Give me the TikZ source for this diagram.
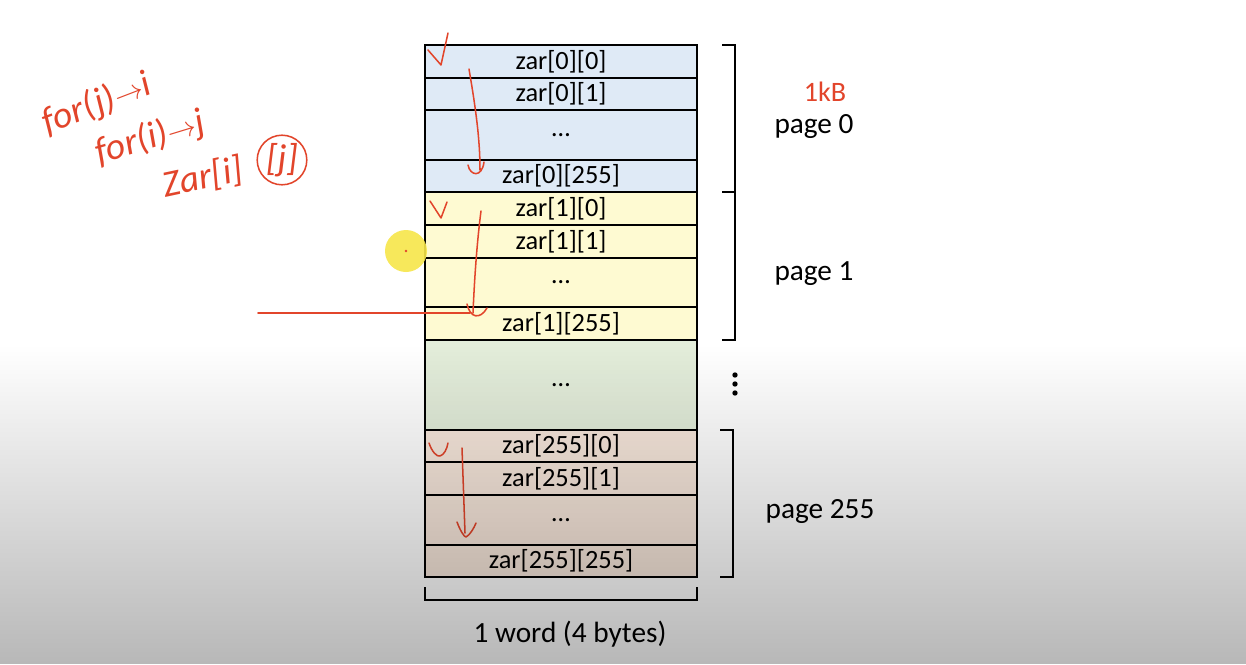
\documentclass[tikz,border=0pt]{standalone}
\usepackage{fontspec}
\setmainfont{Carlito}
\usepackage{tikz}
\usetikzlibrary{positioning, arrows.meta, fadings}

\definecolor{pgblue}{HTML}{DFEAF6}
\definecolor{pgyellow}{HTML}{FEFAD2}
\definecolor{pggreen}{HTML}{E3EDDA}
\definecolor{pgbrown}{HTML}{F8E8DC}
\definecolor{penred}{HTML}{E2452B}
\definecolor{cursor}{HTML}{F7E64A}

\tikzfading[name=fadedown, top color=transparent!100, bottom color=transparent!72]

\begin{document}
\begin{tikzpicture}[
        x=0.03cm, y=-0.03cm,
        node distance = 0pt,
        cell/.style = {draw, line width=1.2pt, rectangle, outer sep=0pt, minimum width=8.16cm, font=\fontsize{22.5}{26}\selectfont},
        brk/.style  = {line width=1.4pt},
        lbl/.style  = {font=\fontsize{25}{29}\selectfont},
        pen/.style  = {draw=penred, line width=1.3pt, line cap=round, line join=round},
        hand/.style = {text=penred, font=\fontsize{32}{36}\selectfont\itshape},
    ]
        \useasboundingbox (0,0) rectangle (1246,664);
        \fill[white] (0,0) rectangle (1246,664);

        % page 0
        \node[cell, fill=pgblue, minimum height=0.99cm] (z00) at (561,61.5) {zar[0][0]};
        \node[cell, fill=pgblue, minimum height=0.96cm, below=of z00] (z01) {zar[0][1]};
        \node[cell, fill=pgblue, minimum height=1.5cm, below=of z01] (z0d) {\dots};
        \node[cell, fill=pgblue, minimum height=0.96cm, below=of z0d] (z0n) {zar[0][255]};

        % page 1
        \node[cell, fill=pgyellow, minimum height=0.99cm, below=of z0n] (z10) {zar[1][0]};
        \node[cell, fill=pgyellow, minimum height=0.99cm, below=of z10] (z11) {zar[1][1]};
        \node[cell, fill=pgyellow, minimum height=1.47cm, below=of z11] (z1d) {\dots};
        \node[cell, fill=pgyellow, minimum height=0.99cm, below=of z1d] (z1n) {zar[1][255]};

        \node[cell, fill=pggreen, minimum height=2.7cm, below=of z1n] (mid) {\dots};

        % page 255
        \node[cell, fill=pgbrown, minimum height=0.96cm, below=of mid] (zn0) {zar[255][0]};
        \node[cell, fill=pgbrown, minimum height=0.99cm, below=of zn0] (zn1) {zar[255][1]};
        \node[cell, fill=pgbrown, minimum height=1.5cm, below=of zn1] (znd) {\dots};
        \node[cell, fill=pgbrown, minimum height=0.96cm, below=of znd] (znn) {zar[255][255]};

        % brackets
        \draw[brk] ([xshift=0.75cm]z00.north east) -- ++(0.38cm,0) |- ([xshift=0.75cm]z0n.south east);
        \draw[brk] ([xshift=0.75cm]z10.north east) -- ++(0.38cm,0) |- ([xshift=0.75cm]z1n.south east);
        \draw[brk] ([xshift=0.69cm]zn0.north east) -- ++(0.38cm,0) |- ([xshift=0.69cm]znn.south east);
        \draw[brk] ([yshift=-0.3cm]znn.south west) -- ++(0,-0.39cm) -| ([yshift=-0.3cm]znn.south east);

        \node[lbl] (pg0) at (814,127) {page 0};
        \node[lbl] (pg1) at (814,274) {page 1};
        \node[lbl] (pgn) at (820,512) {page 255};
        \node[lbl] (word) at (570,634) {1 word (4 bytes)};
        \foreach \y in {375,384,393}
            \fill (735,\y) circle (2.3pt);

        % pen notes
        \node[hand, rotate=21] (loopj) at (97,104) {for(j)$\to$i};
        \node[hand, rotate=17] (loopi) at (150,138) {for(i)$\to$j};
        \node[hand, rotate=12] (acc) at (203,178) {Zar[i]};
        \node[hand, draw=penred, line width=1.3pt, circle, inner sep=1pt, minimum size=1.45cm] (jcirc) at (282,160) {[j]};
        \node[hand, font=\fontsize{24}{28}\selectfont] (kb) at (825,92) {1kB};

        \draw[pen] (428,50) -- (441,65) -- (448,33);
        \draw[pen] (469,69) .. controls (476,110) and (480,140) .. (480,170);
        \draw[pen] (468,165) .. controls (470,176) and (482,178) .. (484,162);

        \draw[pen] (430,201) -- (441,218) -- (447,202);
        \draw[pen] (481,211) .. controls (476,250) and (474,290) .. (473,313);
        \draw[pen] (467,304) .. controls (470,318) and (480,320) .. (487,308);
        \draw[pen] (258,313) -- (470,313);

        \draw[pen] (429,443) .. controls (432,452) and (437,457) .. (440,456) .. controls (444,455) and (447,449) .. (448,443);
        \draw[pen] (462,448) -- (465,533);
        \draw[pen] (457,522) .. controls (460,530) and (464,537) .. (466,537) .. controls (470,535) and (474,528) .. (476,523);

        % cursor
        \fill[cursor, opacity=0.9] (406,251) circle (0.63cm);
        \fill[penred] (406,251) circle (1.2pt);

        % grey screen shade
        \fill[black, path fading=fadedown] (0,345) rectangle (1246,664);
\end{tikzpicture}
\end{document}
